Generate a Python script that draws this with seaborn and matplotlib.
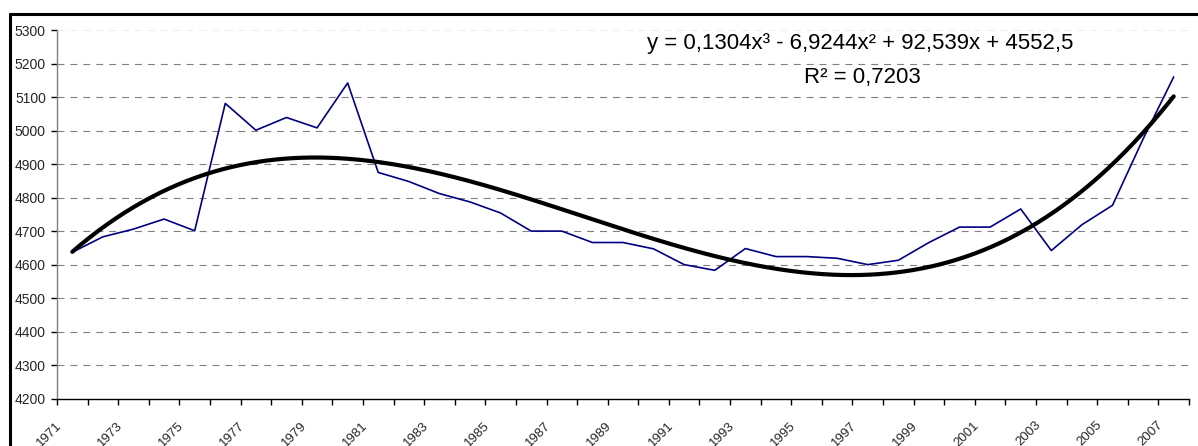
import numpy as np
import pandas as pd
import matplotlib
matplotlib.use("Agg")
import matplotlib.pyplot as plt
from matplotlib.lines import Line2D
from matplotlib.transforms import ScaledTranslation
import seaborn as sns

years = list(range(1971, 2008))
values = [4637, 4683, 4706, 4736, 4701, 5081, 5001, 5039, 5008, 5142,
          4875, 4848, 4812, 4787, 4754, 4700, 4700, 4666, 4666, 4647,
          4600, 4583, 4648, 4624, 4624, 4619, 4600, 4613, 4666, 4712,
          4712, 4766, 4642, 4719, 4777, 4975, 5160]
trend_coeffs = [0.1304, -6.9244, 92.539, 4552.5]   # from the trendline label
equation_text = "y = 0,1304x³ - 6,9244x² + 92,539x + 4552,5"
r2_text = "R² = 0,7203"
yticks = list(range(4200, 5301, 100))

sns.set_theme(style="white")
plt.rcParams['font.family'] = ['Liberation Sans', 'DejaVu Sans']
plt.rcParams['lines.scale_dashes'] = False

fig = plt.figure(figsize=(11.98, 4.46), dpi=100)
ax = fig.add_axes([57/1198, 1-398.7/446, (1189-57)/1198, (398.7-30)/446])

idx = np.arange(len(years))
df = pd.DataFrame({"pos": idx, "value": values})

# gridlines
for yv in yticks[1:]:
    col = "#808080" if yv < 5300 else "#eeeeee"
    ax.axhline(yv, color=col, lw=0.8, ls=(0, (5, 4.3)), zorder=0)

sns.lineplot(data=df, x="pos", y="value", ax=ax, color="#000080", lw=1.2, zorder=3)

xf = np.linspace(1, len(years), 500)
yf = np.polyval(trend_coeffs, xf)
tdf = pd.DataFrame({"pos": xf - 1, "value": yf})
sns.lineplot(data=tdf, x="pos", y="value", ax=ax, color="black", lw=3.0, zorder=4)

ax.set_xlim(-0.5, len(years) - 0.5)
ax.set_ylim(4200, 5300)
ax.set_yticks(yticks)
ax.set_yticklabels([str(v) for v in yticks], fontsize=10)
ax.set_xticks(np.arange(-0.5, len(years), 1.0))
ax.set_xticklabels([])
ax.set_xticks(idx[::2], minor=True)
ax.set_xticklabels([str(y) for y in years[::2]], minor=True, fontsize=9.5,
                   rotation=45, ha="right", rotation_mode="anchor")
ax.tick_params(axis="x", which="major", direction="out", length=4, width=1, color="black", bottom=True)
ax.tick_params(axis="x", which="minor", length=0, pad=9, bottom=True)
ax.tick_params(axis="y", direction="out", length=4, width=1, color="black", pad=4, left=True)
ax.set_xlabel("")
ax.set_ylabel("")
for lab in ax.get_xticklabels(minor=True):
    lab.set_transform(lab.get_transform() + ScaledTranslation(-0.17, -0.08, fig.dpi_scale_trans))

for s in ["top", "right"]:
    ax.spines[s].set_visible(False)
ax.spines["left"].set_color("#808080")
ax.spines["left"].set_linewidth(1.0)
ax.spines["bottom"].set_color("black")
ax.spines["bottom"].set_linewidth(1.0)

ax.text(860/1198, 1-43/446, equation_text, transform=fig.transFigure,
        ha="center", va="center", fontsize=16, color="black")
ax.text(862/1198, 1-77/446, r2_text, transform=fig.transFigure,
        ha="center", va="center", fontsize=16, color="black")

# outer chart frame (top and left edges visible)
fig.add_artist(Line2D([10/1198, 1.0], [1-14/446, 1-14/446], transform=fig.transFigure,
                      color="black", lw=2.2))
fig.add_artist(Line2D([10/1198, 10/1198], [0, 1-14/446], transform=fig.transFigure,
                      color="black", lw=2.2))

fig.savefig("out.png", dpi=100, facecolor="white")
